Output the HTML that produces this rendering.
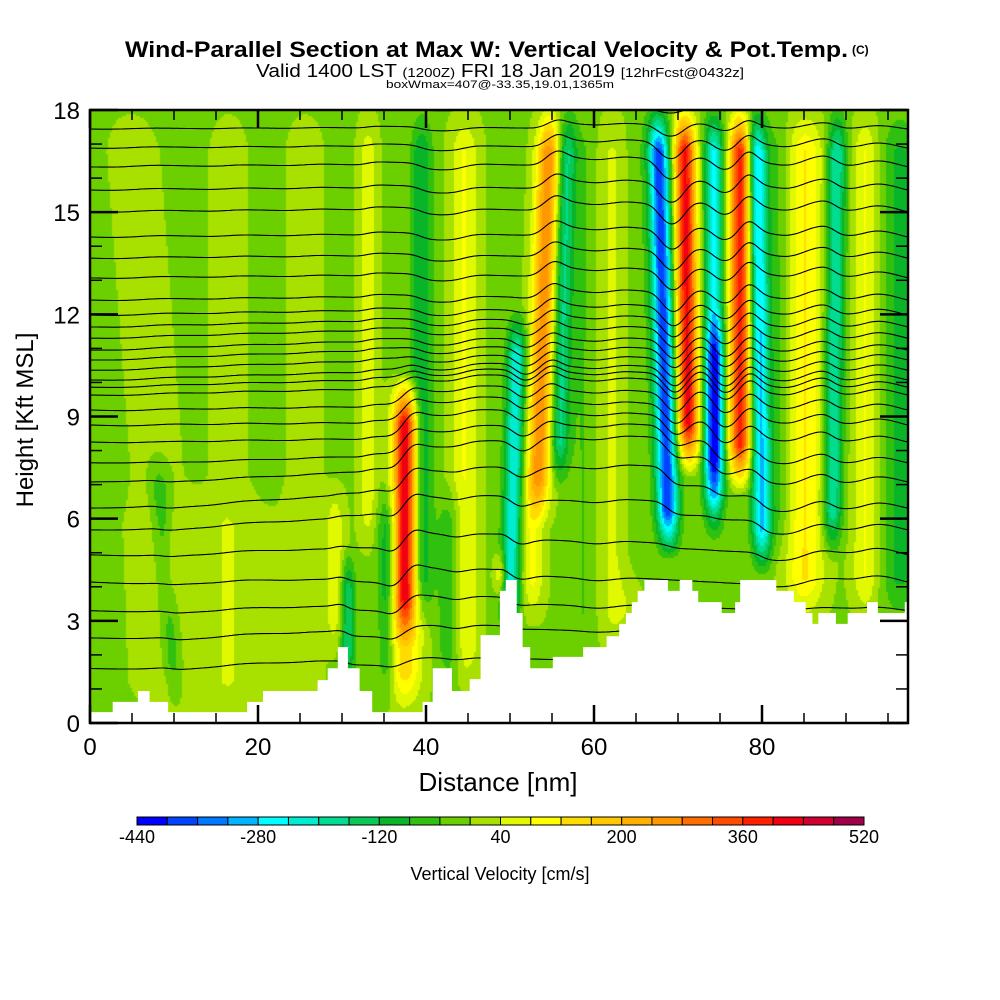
<!DOCTYPE html>
<html><head><meta charset="utf-8">
<style>
html,body{margin:0;padding:0;background:#fff;}
#wrap{position:relative;width:1000px;height:1000px;overflow:hidden;font-family:"Liberation Sans",sans-serif;}
#field{position:absolute;left:90px;top:110px;}
#svg{position:absolute;left:0;top:0;}
</style></head>
<body>
<div id="wrap">
<canvas id="field" width="818" height="613"></canvas>
<svg id="svg" width="1000" height="1000" xmlns="http://www.w3.org/2000/svg">
 <g id="lines"></g>
 <path id="terrain" fill="#fff"></path>
 <rect x="90" y="110" width="818" height="613" fill="none" stroke="#000" stroke-width="2.5"/>
 <g id="ticks"></g>
 <g id="ylabels" font-size="24" text-anchor="end"></g>
 <g id="xlabels" font-size="24" text-anchor="middle"></g>
 <text x="498" y="791" font-size="26" text-anchor="middle">Distance [nm]</text>
 <text transform="translate(33,420) rotate(-90)" font-size="24" text-anchor="middle">Height [Kft MSL]</text>
 <text x="125" y="57" font-size="22" font-weight="bold" textLength="723" lengthAdjust="spacingAndGlyphs">Wind-Parallel Section at Max W: Vertical Velocity &amp; Pot.Temp.</text>
 <text x="852" y="54" font-size="12" font-weight="bold">(C)</text>
 <text x="256" y="77" font-size="18" textLength="488" lengthAdjust="spacingAndGlyphs">Valid 1400 LST <tspan font-size="13">(1200Z)</tspan> FRI 18 Jan 2019 <tspan font-size="13">[12hrFcst@0432z]</tspan></text>
 <text x="386" y="88" font-size="11" textLength="228" lengthAdjust="spacingAndGlyphs">boxWmax=407@-33.35,19.01,1365m</text>
 <g id="cbar"></g>
 <g id="cblabels" font-size="18" text-anchor="middle"></g>
 <text x="500" y="880" font-size="18" text-anchor="middle">Vertical Velocity [cm/s]</text>
</svg>
</div>
<script>
// ---- data ----
const colorLevels = [-440,-400,-360,-320,-280,-240,-200,-160,-120,-80,-40,0,40,80,120,160,200,240,280,320,360,400,440,480,520];
const colorFills = ["#0000ff","#0044ff","#0078ff","#00b4ff","#00ffff","#00ecd0","#00dc90","#08c858","#08b428","#30c010","#6cd000","#a8e000","#e0f800","#ffff00","#ffdc00","#ffc800","#ffb000","#ff9800","#ff6c00","#ff4c00","#ff2000","#f00010","#d00030","#a00048"];
const colorbarLabels = [-440,-280,-120,40,200,360,520];
const xTicks = [0,20,40,60,80];
const yTicks = [0,3,6,9,12,15,18];
// vertical-velocity features: centre (nm at 9 kft), tilt (nm per kft), amplitude (cm/s), width (nm), bottom/top (kft)
const featCenter = [37.5,37.3,53.6,50.6,55.95,62.5,68.5,71.2,74.3,74.3,77.4,79.8,85.1,88.5,92.3,96.4,33.1,39.5,44.6,42.9,35.4,30.7,29.2,7.7,9.5,48.9,52.6,7.5,16.5,25.6,14,59,64.5,82];
const featTilt   = [0,0,0.13,0.1,0.1,0,-0.1,-0.05,0,0,0,-0.05,0,0.05,0,0,0,0,0,0,0,0,0,-0.3,0,0,0,-0.3,0,0,0,0,0,0];
const featAmp    = [440,160,280,-230,-170,60,-380,420,-240,-200,400,-280,130,-200,90,-80,70,-110,90,-80,-110,-160,80,-90,40,200,100,28,28,28,25,-40,-40,-50];
const featWidth  = [1.0,1.5,1.0,0.8,0.8,1.8,0.9,0.9,0.8,0.8,0.9,0.8,1.6,0.8,1.1,1.5,0.8,0.9,1.2,1.0,0.8,0.6,0.8,0.9,0.8,0.5,1.0,2,1.5,1.5,6,1.2,1.2,1.2];
const featBottom = [2.5,0.3,6,2.5,7,2,5.0,7.5,5.5,6.5,7,4.5,3,5,3,3,5,3,1,1,0.5,1,2,0.5,3,3.7,3,0,0,0,0,2,4,5];
const featTop    = [10.0,3.5,18,12,18,18,18,18,18,12,18,18,18,18,18,18,18,18,18,7,7,5,7,8,6,5,7,18,18,18,7,18,18,18];
const backgroundW = -8;
// terrain steps: start distance (nm), height (kft)
const terrainX = [0,2.7,5.7,7.1,9.3,18.7,20.6,27.1,28.3,29.5,30.7,32.1,33.6,39.6,40.8,43.1,45.2,46.5,47.6,48.8,49.5,50.8,51.5,52.4,55.1,58.7,61.5,63.0,63.8,64.5,65.2,66.0,68.8,70.2,71.7,72.4,75.2,76.8,77.4,81.7,83.8,85.2,86.0,86.7,88.8,90.2,92.5,93.8,97.0];
const terrainH = [0.32,0.62,0.94,0.62,0.32,0.62,0.94,1.26,1.61,2.23,1.61,0.94,0.32,0.62,1.61,0.94,1.29,2.58,2.58,3.88,4.2,3.23,2.23,1.61,1.94,2.23,2.55,2.91,3.23,3.55,3.88,4.2,3.88,4.2,3.88,3.55,3.23,3.55,4.2,3.88,3.55,3.23,2.91,3.23,2.91,3.23,3.55,3.23,3.55];
// potential temperature contour base heights (kft at left edge)
const thetaBase = [18.0,17.44,16.88,16.33,15.65,15.01,14.27,13.65,13.07,12.42,11.98,11.63,11.30,10.95,10.66,10.36,10.07,9.86,9.63,9.19,8.75,8.25,7.64,7.08,6.31,5.67,4.94,4.14,3.3,2.5,1.6];

// ---- axes ----
const X0=90,X1=908,Y0=723,Y1=110, XMAX=(X1-X0)/8.4, YMAX=18;
const sx = d => X0 + d*8.4;
const sy = h => Y0 - (h/YMAX)*(Y0-Y1);
const NS="http://www.w3.org/2000/svg";

function wAt(d,h){
  let w=backgroundW;
  for(let i=0;i<featCenter.length;i++){
    const lo=featBottom[i], hi=featTop[i];
    if(h<lo-0.3||h>hi+0.3) continue;
    const f=1.5;
    const env=Math.min(1,Math.max(0,(h-lo+0.3)/f),Math.max(0,(hi+0.3-h)/f));
    const c=featCenter[i]+featTilt[i]*(h-9);
    const z=(d-c)/featWidth[i];
    if(Math.abs(z)>4) continue;
    w+=featAmp[i]*env*Math.exp(-0.5*z*z);
  }
  return w;
}
function colorFor(w){
  let b=Math.floor((w-colorLevels[0])/40);
  b=Math.max(0,Math.min(colorFills.length-1,b));
  return colorFills[b];
}
const ctx=document.getElementById('field').getContext('2d');
const step=2;
for(let px=0;px<818;px+=step){
  const d=(px+step/2)/8.4;
  for(let py=0;py<613;py+=step){
    const h=(613-py-step/2)/613*YMAX;
    ctx.fillStyle=colorFor(wAt(d,h));
    ctx.fillRect(px,py,step,step);
  }
}
// isentropes
const lines=document.getElementById('lines');
const kDisp=0.026;
function wSmooth(d,h){ return (wAt(d,h-0.5)+wAt(d,h)+wAt(d,h+0.5))/3; }
thetaBase.forEach((h0,li)=>{
  let cum=0;
  const dstep=2/8.4;
  const ys=[];
  for(let d=0; d<=XMAX+0.01; d+=dstep){
    cum+=(wSmooth(d,h0)-backgroundW)*dstep;
    ys.push([d,cum]);
  }
  const end=ys[ys.length-1][1];
  let s="";
  ys.forEach(([d,c],j)=>{
    const disp=(c - end*(d/XMAX))*kDisp;
    const y=Math.max(Y1,Math.min(Y0,sy(h0)-disp));
    s+=(j?"L":"M")+sx(d).toFixed(1)+","+y.toFixed(1);
  });
  const p=document.createElementNS(NS,'path');
  p.setAttribute('d',s);
  p.setAttribute('fill','none');
  p.setAttribute('stroke','#000');
  p.setAttribute('stroke-width','1.1');
  
  
  lines.appendChild(p);
});
// terrain
let t="M"+X0+","+Y0;
terrainX.forEach((d,i)=>{
  const xe = i<terrainX.length-1 ? terrainX[i+1] : XMAX;
  t+=" L"+sx(d).toFixed(1)+","+sy(terrainH[i]).toFixed(1)+" L"+sx(xe).toFixed(1)+","+sy(terrainH[i]).toFixed(1);
});
t+=" L"+X1+","+Y0+" Z";
document.getElementById('terrain').setAttribute('d',t);
// ticks
const tk=document.getElementById('ticks');
function line(x1,y1,x2,y2,w,name){
  const l=document.createElementNS(NS,'line');
  l.setAttribute('x1',x1);l.setAttribute('y1',y1);l.setAttribute('x2',x2);l.setAttribute('y2',y2);
  l.setAttribute('stroke','#000');l.setAttribute('stroke-width',w);
  
  
  tk.appendChild(l);
}
for(let d=0; d<=XMAX; d+=5){
  const major=d%20===0, L=major?18:10, x=sx(d);
  line(x,Y0,x,Y0-L,major?2.5:1.5,'x-tick');
  line(x,Y1,x,Y1+L,major?2.5:1.5,'x-tick-top');
}
for(let h=0; h<=18; h+=1){
  const major=h%3===0, L=major?28:12, y=sy(h);
  line(X0,y,X0+L,y,major?2.5:1.5,'y-tick');
  line(X1,y,X1-L,y,major?2.5:1.5,'y-tick-right');
}
const yl=document.getElementById('ylabels');
yTicks.forEach(v=>{
  const e=document.createElementNS(NS,'text');
  e.setAttribute('x',80);e.setAttribute('y',sy(v)+9);e.textContent=v;
  
  
  yl.appendChild(e);
});
const xl=document.getElementById('xlabels');
xTicks.forEach(v=>{
  const e=document.createElementNS(NS,'text');
  e.setAttribute('x',sx(v));e.setAttribute('y',755);e.textContent=v;
  
  
  xl.appendChild(e);
});
// colorbar
const cb=document.getElementById('cbar');
const CB0=137,CB1=864,bw=(CB1-CB0)/colorFills.length;
const cbx=v=>CB0+(v-colorLevels[0])/(colorLevels[colorLevels.length-1]-colorLevels[0])*(CB1-CB0);
colorFills.forEach((c,i)=>{
  const r=document.createElementNS(NS,'rect');
  r.setAttribute('x',cbx(colorLevels[i]));r.setAttribute('y',817);r.setAttribute('width',bw);r.setAttribute('height',8);
  r.setAttribute('fill',c);r.setAttribute('stroke','#000');r.setAttribute('stroke-width','1');
  
  
  cb.appendChild(r);
});
const cbl=document.getElementById('cblabels');
colorbarLabels.forEach(v=>{
  const e=document.createElementNS(NS,'text');
  e.setAttribute('x',cbx(v));e.setAttribute('y',843);e.textContent=v;
  
  
  cbl.appendChild(e);
});
</script>
</body></html>
